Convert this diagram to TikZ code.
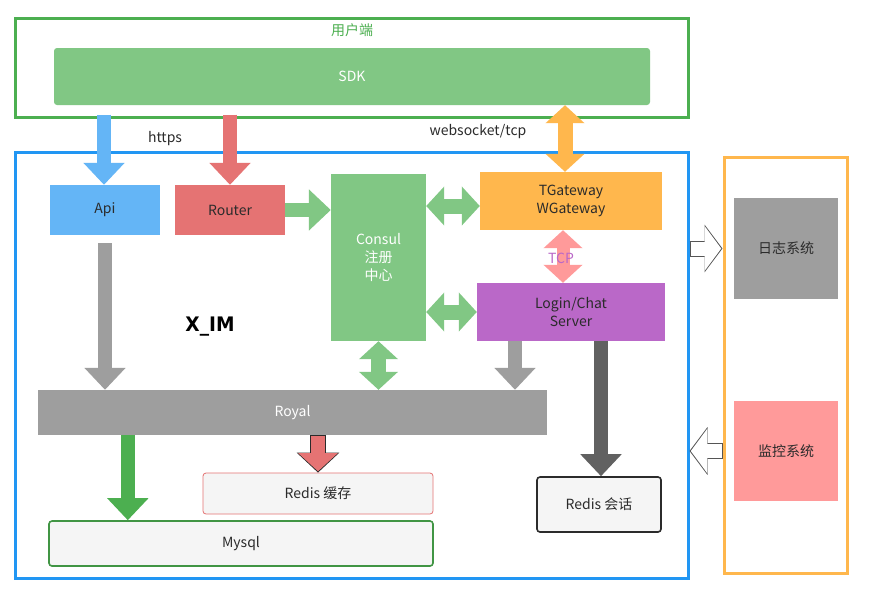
\documentclass[tikz,border=0pt]{standalone}
\usepackage{fontspec}
\setmainfont{Noto Sans CJK SC}
\newfontfamily\imfont{DejaVu Sans}[FakeStretch=0.93]
\usepackage{xcolor}
\definecolor{cUser}{HTML}{4CAF50}
\definecolor{cSdk}{HTML}{81C784}
\definecolor{cBlue}{HTML}{2196F3}
\definecolor{cApi}{HTML}{64B5F6}
\definecolor{cRed}{HTML}{E57373}
\definecolor{cOrange}{HTML}{FFB74D}
\definecolor{cPurple}{HTML}{BA68C8}
\definecolor{cGray}{HTML}{9E9E9E}
\definecolor{cDark}{HTML}{616161}
\definecolor{cPink}{HTML}{FF9A9A}
\definecolor{cText}{HTML}{2B2B2B}
\definecolor{cLight}{HTML}{F5F5F5}
\usetikzlibrary{arrows.meta,calc}
\tikzset{
  node-frame/.style={draw,line width=3pt,inner sep=0pt},
  node-box/.style={inner sep=0pt,align=center,text=cText,
    font=\fontsize{14}{18}\selectfont},
  node-white/.style={node-box,text=white},
  node-store/.style={node-box,fill=cLight,rounded corners=3pt},
  node-label/.style={inner sep=0pt,text=cText,font=\fontsize{14}{18}\selectfont},
  arrow-block/.style={line width=14pt,-{Triangle[width=40pt,length=22pt]}},
  arrow-both/.style={line width=15pt,
    {Triangle[width=38pt,length=18pt]}-{Triangle[width=38pt,length=18pt]}},
  arrow-outline/.style={line width=15.6pt,draw=cText,
    -{Triangle[width=41.6pt,length=20pt]}},
  arrow-inner/.style={line width=13.6pt,shorten >=1.3pt,shorten <=0.8pt,
    -{Triangle[width=38.6pt,length=18.2pt]}},
  arrow-hollow-out/.style={line width=16pt,draw=cText!80,
    -{Triangle[width=47pt,length=18pt]}},
  arrow-hollow-in/.style={line width=14pt,draw=white,shorten >=1.3pt,shorten <=1pt,
    -{Triangle[width=44pt,length=16.6pt]}},
}

\begin{document}
\begin{tikzpicture}[x=1pt,y=-1pt]
  \useasboundingbox[fill=white] (0,0) rectangle (869,590);
  % 用户端
  \node[node-frame,draw=cUser,minimum width=673pt,minimum height=99pt] (usr) at (351.5,67.5) {};
  \node[node-label,text=cUser] (usrtitle) at (352,30) {用户端};
  \node[node-white,fill=cSdk,rounded corners=3pt,minimum width=596pt,minimum height=57pt] (sdk) at (352,76.5) {SDK};
  % X_IM 服务端
  \node[node-frame,draw=cBlue,minimum width=673pt,minimum height=426pt] (im) at (351.5,365) {};
  \node[node-box,fill=cApi,minimum width=110pt,minimum height=50pt] (api) at (105,210) {Api};
  \node[node-box,fill=cRed,minimum width=110pt,minimum height=50pt] (router) at (230,210) {Router};
  \node[node-white,fill=cSdk,minimum width=95pt,minimum height=167pt] (consul) at (378.5,257.5) {Consul\\注册\\中心};
  \node[node-box,fill=cOrange,minimum width=182pt,minimum height=58pt] (tgw) at (571,201) {TGateway\\WGateway};
  \node[node-box,fill=cPurple,minimum width=188pt,minimum height=58pt] (login) at (571,312) {Login/Chat\\Server};
  \node[node-white,fill=cGray,minimum width=509pt,minimum height=45pt] (royal) at (292.5,412.5) {Royal};
  \node[node-store,draw=cRed,line width=0.8pt,minimum width=230pt,minimum height=41pt] (rcache) at (318,493.5) {Redis 缓存};
  \node[node-store,draw=cUser!85!black,line width=1.6pt,minimum width=384pt,minimum height=45pt] (mysql) at (241,543.5) {Mysql};
  \node[node-store,draw=cText,line width=1.6pt,minimum width=124pt,minimum height=55pt] (rsess) at (599,504.5) {Redis 会话};
  \node[inner sep=0pt,font=\imfont\bfseries\fontsize{20}{22}\selectfont] (xim) at (210,327) {X\_IM};
  % 运维
  \node[node-frame,draw=cOrange,minimum width=123pt,minimum height=416pt] (ops) at (785.5,365) {};
  \node[node-box,fill=cGray,minimum width=104pt,minimum height=101pt] (log) at (786,248.5) {日志系统};
  \node[node-box,fill=cPink,minimum width=104pt,minimum height=100pt] (mon) at (786,451) {监控系统};
  % 协议
  \node[node-label] (https) at (165,139) {https};
  \node[node-label] (ws) at (478,132) {websocket/tcp};
  % 连线
  \draw[arrow-block,draw=cApi] ($(api.north |- usr.south)+(-1,-4)$) -- ($(api.north)+(-1,0)$);
  \draw[arrow-block,draw=cRed] ($(router.north |- usr.south)+(0,-4)$) -- (router.north);
  \draw[arrow-both,draw=cOrange] ($(tgw.north |- sdk.south)+(-6,0)$) -- ($(tgw.north)+(-6,0)$);
  \draw[arrow-block,draw=cSdk] (router.east) -- (router.east -| consul.west);
  \draw[arrow-both,draw=cSdk] ($(consul.east |- tgw.west)+(0,5)$) -- ($(tgw.west)+(0,5)$);
  \draw[arrow-both,draw=cPink,line width=13pt] ($(tgw.south)+(-8,0)$) -- ($(login.north)+(-8,0)$);
  \node[inner sep=0pt,text=cPurple,font=\fontsize{14}{18}\selectfont] (tcp) at (561,258) {TCP};
  \draw[arrow-both,draw=cSdk] (consul.east |- login.west) -- (login.west);
  \draw[arrow-block,draw=cGray] ($(api.south)+(0,8)$) -- (api.south |- royal.north);
  \draw[arrow-both,draw=cSdk] (consul.south) -- (consul.south |- royal.north);
  \draw[arrow-block,draw=cGray] ($(login.south)+(-56,0)$) -- ($(login.south |- royal.north)+(-56,0)$);
  \draw[arrow-block,draw=cDark] ($(login.south -| rsess.north)+(2,0)$) -- ($(rsess.north)+(2,0)$);
  \draw[arrow-block,draw=cUser] ($(royal.south west)+(90,0)$) -- ($(royal.south west |- mysql.north)+(90,0)$);
  \draw[arrow-outline] (royal.south -| rcache.north) -- (rcache.north);
  \draw[arrow-inner,draw=cRed] (royal.south -| rcache.north) -- (rcache.north);
  \draw[arrow-hollow-out] (im.east |- log.west) -- (ops.west |- log.west);
  \draw[arrow-hollow-in] (im.east |- log.west) -- (ops.west |- log.west);
  \draw[arrow-hollow-out] (ops.west |- mon.west) -- (im.east |- mon.west);
  \draw[arrow-hollow-in] (ops.west |- mon.west) -- (im.east |- mon.west);
\end{tikzpicture}
\end{document}
